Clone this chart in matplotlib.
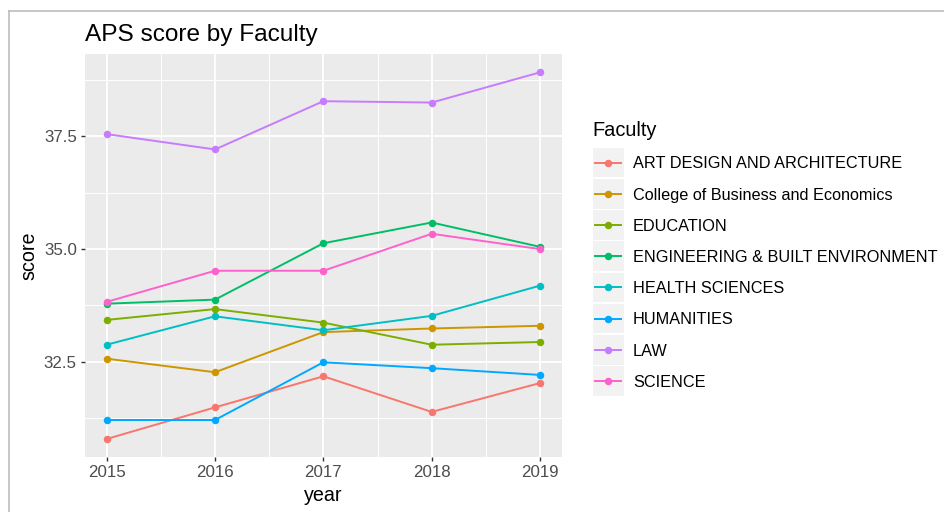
import matplotlib
matplotlib.use("Agg")
import matplotlib.pyplot as plt
from matplotlib.lines import Line2D
from matplotlib.patches import Rectangle
import numpy as np

plt.rcParams['font.family'] = ['Liberation Sans', 'DejaVu Sans']

years = [2015, 2016, 2017, 2018, 2019]
faculties = ["ART DESIGN AND ARCHITECTURE", "College of Business and Economics",
             "EDUCATION", "ENGINEERING & BUILT ENVIRONMENT", "HEALTH SCIENCES",
             "HUMANITIES", "LAW", "SCIENCE"]
art = [30.79, 31.49, 32.18, 31.39, 32.03]
business = [32.57, 32.27, 33.16, 33.24, 33.30]
education = [33.43, 33.67, 33.37, 32.88, 32.94]
engineering = [33.79, 33.88, 35.13, 35.59, 35.05]
health = [32.88, 33.51, 33.20, 33.52, 34.19]
humanities = [31.21, 31.21, 32.49, 32.36, 32.21]
law = [37.55, 37.21, 38.28, 38.25, 38.92]
science = [33.83, 34.52, 34.52, 35.34, 35.00]
series = [art, business, education, engineering, health, humanities, law, science]
colors = ["#F8766D", "#CD9600", "#7CAE00", "#00BE67", "#00BFC4", "#00A9FF", "#C77CFF", "#FF61CC"]
yticks = [32.5, 35.0, 37.5]
ytick_labels = ["32.5", "35.0", "37.5"]

W, H = 945, 512
fig = plt.figure(figsize=(W / 100, H / 100), dpi=100)

def fx(x):
    return x / W

def fy(y):
    return 1 - y / H

# panel
pl, pr, pt, pb = 85, 561.7, 54, 457.3
ax = fig.add_axes([fx(pl), fy(pb), fx(pr - pl), (pb - pt) / H])
ax.set_facecolor("#EBEBEB")
for s in ax.spines.values():
    s.set_visible(False)

for vals, c in zip(series, colors):
    ax.plot(years, vals, color=c, lw=1.4, solid_capstyle='butt', zorder=3)
for vals, c, name in zip(series, colors, faculties):
    ax.plot(years, vals, linestyle='none', marker='o', ms=5.4, mec='none', color=c, zorder=4, label=name)

allv = np.concatenate([np.array(s) for s in series])
lo, hi = allv.min(), allv.max()
rng = hi - lo
ax.set_ylim(lo - 0.05 * rng, hi + 0.05 * rng)
xr = years[-1] - years[0]
ax.set_xlim(years[0] - 0.05 * xr, years[-1] + 0.05 * xr)

ax.set_xticks(years)
ax.set_xticklabels([str(y) for y in years])
ax.set_xticks([y + 0.5 for y in years[:-1]], minor=True)
ax.set_yticks(yticks)
ax.set_yticklabels(ytick_labels)
ax.set_yticks([31.25, 33.75, 36.25, 38.75], minor=True)

ax.grid(which='major', color='white', lw=1.3, zorder=1)
ax.grid(which='minor', color='white', lw=0.7, zorder=1)
ax.set_axisbelow(True)
ax.tick_params(which='major', length=2.9, width=1.0, color='#333333',
               labelcolor='#4D4D4D', labelsize=12.2, pad=3.0)
ax.tick_params(which='minor', length=0)

ax.set_xlabel("year", fontsize=14.2, color='black', labelpad=4.0)
ax.set_ylabel("score", fontsize=14.2, color='black', labelpad=4)

# title
fig.text(fx(85), fy(41), "APS score by Faculty", fontsize=17.6, color='black',
         ha='left', va='baseline')

# legend (drawn in figure pixel coordinates)
fig.text(fx(592), fy(135.5), "Faculty", fontsize=14.4, color='black', ha='left', va='baseline')
top0, step, kh = 147.7, 31.2, 29.6
for i, (name, c) in enumerate(zip(faculties, colors)):
    t = top0 + i * step
    cy = t + kh / 2
    fig.add_artist(Rectangle((fx(593), fy(t + kh)), 30.6 / W, kh / H,
                             transform=fig.transFigure, facecolor='#F2F2F2', edgecolor='none'))
    fig.add_artist(Line2D([fx(595), fx(620.5)], [fy(cy), fy(cy)], transform=fig.transFigure,
                          color=c, lw=1.4))
    fig.add_artist(Line2D([fx(607.8)], [fy(cy)], transform=fig.transFigure, marker='o',
                          ms=5.4, mec='none', color=c, linestyle='none'))
    fig.text(fx(633), fy(cy), name, fontsize=11.7, color='black', ha='left', va='center_baseline')

# screenshot border
fig.add_artist(Line2D([fx(9), 1], [fy(11), fy(11)], transform=fig.transFigure, color='#BDBDBD', lw=1.2))
fig.add_artist(Line2D([fx(9), fx(9)], [fy(11), 0], transform=fig.transFigure, color='#BDBDBD', lw=1.2))

fig.savefig("out.png", dpi=100)
